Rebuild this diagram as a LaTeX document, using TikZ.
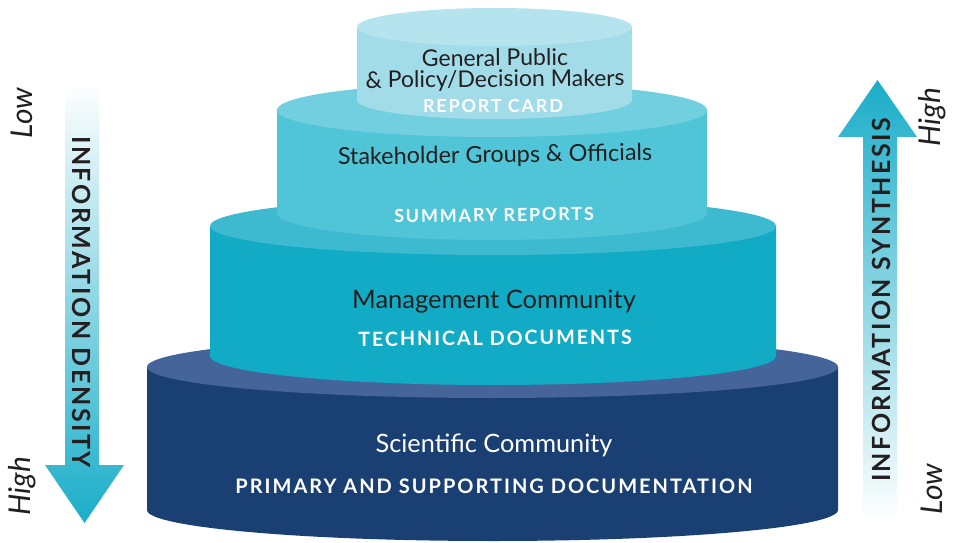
\documentclass[tikz,border=0pt]{standalone}
\usepackage{fontspec}
\setmainfont{Lato}
\newfontfamily\capsfont[LetterSpace=10]{Lato}
\newfontfamily\arrowfont[LetterSpace=10]{Lato}
\definecolor{navybody}{HTML}{1A3F73}
\definecolor{navytop}{HTML}{45659A}
\definecolor{mgmtbody}{HTML}{12ABC5}
\definecolor{mgmttop}{HTML}{3EBAD0}
\definecolor{stakebody}{HTML}{50C5D8}
\definecolor{staketop}{HTML}{72CFE0}
\definecolor{topbody}{HTML}{A3DCE9}
\definecolor{toptop}{HTML}{B5E4EE}
\definecolor{arrowc}{HTML}{1AADC9}
\definecolor{darktext}{HTML}{231F20}
\tikzset{
  tiertext/.style={text=darktext, inner sep=0pt},
  tiercaps/.style={text=white, inner sep=0pt},
  arrowlabel/.style={font=\arrowfont\bfseries\fontsize{25}{27}\selectfont, text=darktext, inner sep=0pt},
  sidelabel/.style={font=\itshape\fontsize{30}{32}\selectfont, text=darktext, inner sep=0pt, rotate=90},
}
\newcommand{\tiercyl}[7]{%
  % #1 cx, #2 rx, #3 top cy, #4 bottom cy, #5 ry, #6 body, #7 top colour
  \fill[#6] (#1-#2,#3) -- (#1-#2,#4) arc[start angle=180, end angle=360, x radius=#2pt, y radius=#5pt] -- (#1+#2,#3) -- cycle;
  \fill[#7] (#1,#3) ellipse[x radius=#2pt, y radius=#5pt];
}
\begin{document}
\begin{tikzpicture}[x=1pt,y=1pt]
\useasboundingbox (0,0) rectangle (958,542);
\fill[white] (0,0) rectangle (958,542);

% tiers, bottom first
\tiercyl{492.5}{345.5}{175}{32}{31}{navybody}{navytop}
\tiercyl{493}{283}{316}{186}{29}{mgmtbody}{mgmttop}
\tiercyl{492}{215}{432}{329}{27}{stakebody}{staketop}
\tiercyl{494.5}{137.5}{515}{442}{19}{topbody}{toptop}

% tier texts
\node[tiertext, align=center, rotate=0.5, font=\fontsize{23}{21}\selectfont] (gp) at (495,472) {General Public\\\& Policy/Decision Makers};
\node[tiercaps, font=\capsfont\bfseries\fontsize{18}{20}\selectfont] (rc) at (493,436) {REPORT CARD};
\node[tiertext, rotate=0.8, font=\fontsize{23.4}{25}\selectfont] (sgo) at (495,386) {Stakeholder Groups \& Officials};
\node[tiercaps, rotate=0.8, font=\capsfont\bfseries\fontsize{18}{20}\selectfont] (sr) at (494,327) {SUMMARY REPORTS};
\node[tiertext, font=\fontsize{25.5}{27}\selectfont] (mc) at (494,240) {Management Community};
\node[tiercaps, rotate=0.5, font=\capsfont\bfseries\fontsize{19.7}{21}\selectfont] (td) at (495,204) {TECHNICAL DOCUMENTS};
\node[tiertext, text=white, font=\fontsize{25.3}{27}\selectfont] (sc) at (494,97) {Scientific Community};
\node[tiercaps, font=\capsfont\bfseries\fontsize{20}{22}\selectfont] (psd) at (494,56) {PRIMARY AND SUPPORTING DOCUMENTATION};

% left arrow: information density (downwards)
\shade[top color=white, bottom color=arrowc]
  (65,459) -- (65,77) -- (45,77) -- (84.5,19) -- (124,77) -- (99,77) -- (99,459) -- cycle;
\node[arrowlabel, rotate=-90] (infd) at (82,240) {INFORMATION DENSITY};
\node[sidelabel] (lowl) at (22,429) {Low};
\node[sidelabel] (highl) at (22,56) {High};

% right arrow: information synthesis (upwards)
\shade[bottom color=white, top color=arrowc]
  (863,22) -- (863,405) -- (838,405) -- (877.5,462) -- (917,405) -- (897,405) -- (897,22) -- cycle;
\node[arrowlabel, rotate=90] (infs) at (881.5,242) {INFORMATION SYNTHESIS};
\node[sidelabel] (highr) at (932,425) {High};
\node[sidelabel] (lowr) at (932,53) {Low};
\end{tikzpicture}
\end{document}
